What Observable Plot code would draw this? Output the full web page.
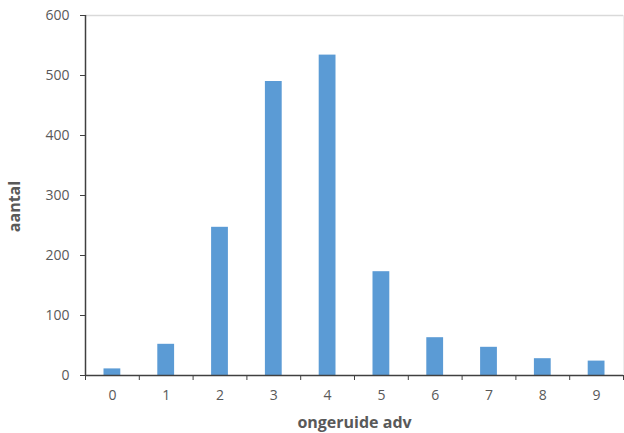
<!DOCTYPE html>
<html>
<head>
<meta charset="utf-8">
<script src="https://cdn.jsdelivr.net/npm/d3@7"></script>
<script src="https://cdn.jsdelivr.net/npm/@observablehq/plot@0.6"></script>
<style>
  html, body { margin: 0; padding: 0; background: #fff; }
  svg { display: block; }
</style>
</head>
<body>
<div id="chart"></div>
<script>
const categories = [0, 1, 2, 3, 4, 5, 6, 7, 8, 9];
const counts = [11, 52, 247, 490, 534, 173, 63, 47, 28, 24];
const yTicks = [0, 100, 200, 300, 400, 500, 600];
const xTitle = "ongeruide adv";
const yTitle = "aantal";

const data = categories.map((k, i) => ({k, n: counts[i]}));
const edges = [-0.5, ...categories.map(k => k + 0.5)];

const font = "'Open Sans', sans-serif";
const grey = "#595959";

const chart = Plot.plot({
  width: 624,
  height: 433,
  marginLeft: 85,
  marginRight: 1,
  marginTop: 15,
  marginBottom: 58,
  style: {fontFamily: font, fontSize: "14px", color: grey, background: "#fff"},
  x: {domain: [-0.5, 9.5]},
  y: {domain: [0, 600]},
  marks: [
    Plot.ruleY([600], {stroke: "#d9d9d9", strokeWidth: 1.5}),
    Plot.ruleX([9.5], {stroke: "#eeeeee"}),
    Plot.rectY(data, {
      x1: d => d.k - 0.5,
      x2: d => d.k + 0.5,
      y: "n",
      fill: "#5b9bd5",
      insetLeft: 18.5,
      insetRight: 18.5
    }),
    Plot.ruleY([0], {stroke: "#404040", strokeWidth: 1.5}),
    Plot.ruleX([-0.5], {stroke: "#404040", strokeWidth: 1.5}),
    Plot.axisY(yTicks, {
      tickSize: 5,
      tickPadding: 11,
      stroke: "#404040",
      fill: grey,
      fontSize: 14,
      label: yTitle,
      labelAnchor: "center",
      labelOffset: 77,
      labelArrow: "none"
    }),
    Plot.axisX(edges, {
      tickSize: 5,
      stroke: "#404040",
      tickFormat: () => "",
      label: null
    }),
    Plot.axisX(categories, {
      tickSize: 0,
      tickPadding: 15,
      fill: grey,
      fontSize: 14,
      label: xTitle,
      labelAnchor: "center",
      labelOffset: 52,
      labelArrow: "none"
    })
  ]
});

chart.querySelectorAll("g[aria-label='y-axis label'] text, g[aria-label='x-axis label'] text").forEach(t => {
  t.setAttribute("font-weight", "bold");
  t.setAttribute("font-size", "16");
  t.setAttribute("fill", grey);
});
chart.querySelectorAll("g[aria-label='y-axis label'] text").forEach(t => t.setAttribute("dx", "-11"));
document.getElementById("chart").append(chart);
</script>
</body>
</html>
